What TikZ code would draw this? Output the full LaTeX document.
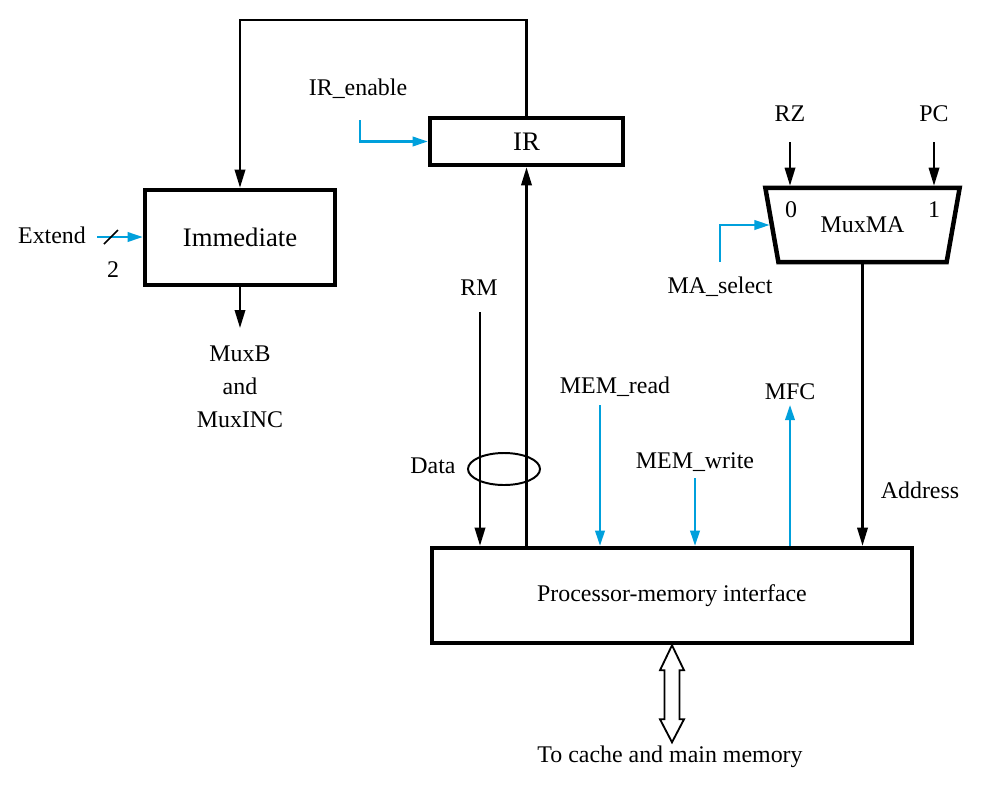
\documentclass[tikz,border=0pt]{standalone}
\usepackage{fontspec}
\setmainfont{Liberation Serif}
\usetikzlibrary{arrows.meta,shapes.geometric}
\definecolor{ctlblue}{RGB}{0,160,220}

\begin{document}
\begin{tikzpicture}[x=0.025cm,y=-0.025cm,
    blk/.style={draw,line width=3.2pt,inner sep=0pt},
    lbl/.style={font=\fontsize{17}{20}\selectfont,inner sep=0pt},
    wire/.style={line width=1.5pt,-{Triangle[length=0.45cm,width=0.26cm]}},
    ctl/.style={ctlblue,line width=1.5pt,-{Triangle[length=0.38cm,width=0.24cm]}}]
  \useasboundingbox (0,0) rectangle (984,790);

  % blocks
  \node[blk,minimum width=4.75cm,minimum height=2.375cm,font=\fontsize{19}{22}\selectfont] (imm) at (240,237.5) {Immediate};
  \node[blk,minimum width=4.825cm,minimum height=1.175cm,font=\fontsize{19}{22}\selectfont] (ir) at (526.5,141.5) {IR};
  \node[blk,minimum width=12cm,minimum height=2.375cm,font=\fontsize{17}{20}\selectfont] (pmi) at (672,595.5) {Processor-memory interface};
  \node[blk,trapezium,trapezium angle=68,shape border rotate=180,trapezium stretches=true,
        minimum width=4.875cm,minimum height=1.85cm,font=\fontsize{17}{20}\selectfont] (mux) at (862.5,225) {MuxMA};
  \node[lbl] (zero) at (791,210) {0};
  \node[lbl] (one) at (934,210) {1};

  % labels
  \node[lbl] (ext) at (52,235) {Extend};
  \node[lbl] (two) at (113,270) {2};
  \node[lbl,align=center,font=\fontsize{17}{23.5}\selectfont] (muxb) at (240,387) {MuxB\\and\\MuxINC};
  \node[lbl] (iren) at (358,89) {IR\_enable};
  \node[lbl] (rm) at (479,288) {RM};
  \node[lbl] (data) at (433,466) {Data};
  \node[lbl] (memrd) at (615,387) {MEM\_read};
  \node[lbl] (memwr) at (695,462) {MEM\_write};
  \node[lbl] (mfc) at (790,392) {MFC};
  \node[lbl] (addr) at (920,490) {Address};
  \node[lbl] (rz) at (790,114) {RZ};
  \node[lbl] (pc) at (934,114) {PC};
  \node[lbl] (masel) at (720,287) {MA\_select};
  \node[lbl] (cache) at (670,757) {To cache and main memory};

  % free ends
  \coordinate (extin) at (97,237);
  \coordinate (immout) at (240,328);
  \coordinate (irenin) at (360,120);
  \coordinate (rmout) at (480,312);
  \coordinate (memrdin) at (600,405);
  \coordinate (memwrin) at (695,478);
  \coordinate (mfcout) at (790,405);
  \coordinate (rzin) at (790,142);
  \coordinate (pcin) at (934,142);
  \coordinate (maselin) at (720,262);

  % connections
  \draw[wire] (ir.north) -- ++(0,-96) -| (imm.north);
  \draw[wire] (imm.south) -- (immout);
  \draw[ctl] (extin) -- (extin -| imm.west);
  \draw[line width=1.1pt] (104,244) -- (118,230);
  \draw[ctl] (irenin) |- (ir.west);
  \draw[wire] (ir.south |- pmi.north) -- (ir.south);
  \draw[wire] (rmout) -- (rmout |- pmi.north);
  \node[draw,ellipse,line width=1.4pt,minimum width=1.8cm,minimum height=0.8cm] (bundle) at (504,469) {};
  \draw[ctl] (memrdin) -- (memrdin |- pmi.north);
  \draw[ctl] (memwrin) -- (memwrin |- pmi.north);
  \draw[ctl] (mfcout |- pmi.north) -- (mfcout);
  \draw[wire] (mux.south) -- (mux.south |- pmi.north);
  \draw[wire] (rzin) -- (rzin |- mux.north);
  \draw[wire] (pcin) -- (pcin |- mux.north);
  \draw[ctl] (maselin) |- (mux.west);

  % link to memory
  \draw[line width=1.3pt,fill=white] (pmi.south) -- ++(12,25) -- ++(-4.5,0) -- ++(0,49) -- ++(4.5,0)
    -- ++(-12,23) -- ++(-12,-23) -- ++(4.5,0) -- ++(0,-49) -- ++(-4.5,0) -- cycle;
\end{tikzpicture}
\end{document}
